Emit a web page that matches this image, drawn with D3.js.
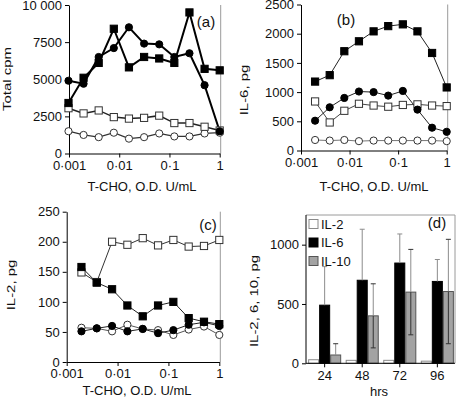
<!DOCTYPE html>
<html><head><meta charset="utf-8">
<script src="https://cdn.jsdelivr.net/npm/d3@7"></script>
<style>
body{margin:0;background:#fff}
svg{display:block}
text{font-family:"Liberation Sans",Arial,Helvetica,sans-serif;fill:#111}
</style>
</head><body>
<svg id="chart" width="456" height="404"></svg>
<script>
// ---------- data ----------
const dosesA = [0.000977, 0.00195, 0.0039, 0.0078, 0.0156, 0.03125, 0.0625, 0.125, 0.25, 0.5, 1];
const dosesBC = [0.00195, 0.0039, 0.0078, 0.0156, 0.03125, 0.0625, 0.125, 0.25, 0.5, 1];
const xTickValues = [0.001, 0.01, 0.1, 1];
const xTickLabels = ["0·001", "0·01", "0·1", "1"];

// panel (a) Total cpm
const aFilledSquare = [3400, 5100, 6100, 8400, 5800, 6500, 6400, 6100, 9500, 5700, 5600];
const aFilledCircle = [4900, 4700, 6500, 7100, 8500, 7400, 7350, 6500, 6750, 4600, 1500];
const aOpenSquare   = [3050, 2700, 2900, 2450, 2350, 2400, 2550, 2050, 2050, 1800, 1550];
const aOpenCircle   = [1500, 1250, 1100, 1400, 1000, 1100, 1350, 1150, 1150, 1350, 1400];
const aYTicks = [0, 2500, 5000, 7500, 10000];
const aYTickLabels = ["0", "2500", "5000", "7500", "10 000"];

// panel (b) IL-6, pg
const bFilledSquare = [1180, 1290, 1700, 1870, 2040, 2130, 2160, 2040, 1670, 1080];
const bFilledCircle = [510, 740, 900, 1010, 1000, 940, 1020, 700, 390, 320];
const bOpenSquare   = [840, 480, 680, 800, 770, 750, 780, 790, 770, 760];
const bOpenCircle   = [180, 170, 180, 160, 170, 170, 170, 170, 170, 160];
const bYTicks = [0, 500, 1000, 1500, 2000, 2500];

// panel (c) IL-2, pg
const cFilledSquare = [158, 132, 121, 94, 76, 94, 100, 73, 67, 63];
const cOpenSquare   = [149, 133, 200, 195, 206, 194, 203, 192, 193, 203];
const cFilledCircle = [51, 56, 60, 51, 55, 48, 53, 62, 66, 60];
const cOpenCircle   = [57, 56, 51, 62, 55, 53, 45, 54, 59, 45];
const cYTicks = [0, 50, 100, 150, 200, 250];

// panel (d) cytokines by hours
const hours = ["24", "48", "72", "96"];
const il2Values  = [30, 25, 25, 18];
const il6Values  = [490, 700, 845, 690];
const il6Errors  = [325, 430, 245, 185];
const il10Values = [70, 400, 600, 605];
const il10Errors = [95, 270, 360, 440];
const dYTicks = [0, 500, 1000];
const cytokines = ["IL-2", "IL-6", "IL-10"];

// ---------- drawing ----------
const svg = d3.select("#chart");
svg.append("rect").attr("width", 456).attr("height", 404).attr("fill", "#fff");
const intFmt = d3.format("d");

function styleAxis(g) {
  g.selectAll("path.domain").attr("stroke", "#000").attr("stroke-width", 1);
  g.selectAll(".tick line").attr("stroke", "#000");
  g.selectAll("text").attr("font-size", 13).attr("fill", "#111")
    .style("font-family", '"Liberation Sans", Arial, sans-serif');
}

function yTitle(g, label, x, y) {
  g.append("text").attr("transform", `translate(${x},${y}) rotate(-90) scale(1.15,0.9)`)
    .attr("text-anchor", "middle").attr("font-size", 13).text(label);
}

function linePanel(cfg) {
  const x = d3.scaleLog().domain([0.001, 1]).range(cfg.xRange);
  const y = d3.scaleLinear().domain(cfg.yDomain).range(cfg.yRange);
  const g = svg.append("g");

  // right border
  g.append("line").attr("x1", cfg.xRange[1] + 1).attr("x2", cfg.xRange[1] + 1)
    .attr("y1", cfg.yRange[1]).attr("y2", cfg.yRange[0])
    .attr("stroke", "#9a9a9a").attr("stroke-width", 1);

  const gx = g.append("g").attr("transform", `translate(0,${cfg.yRange[0]})`)
    .call(d3.axisBottom(x).tickValues(xTickValues)
      .tickFormat((d, i) => xTickLabels[i]).tickSize(4).tickSizeOuter(0).tickPadding(3));
  styleAxis(gx);
  const gy = g.append("g").attr("transform", `translate(${cfg.xRange[0]},0)`)
    .call(d3.axisLeft(y).tickValues(cfg.yTicks)
      .tickFormat((d, i) => cfg.yTickLabels ? cfg.yTickLabels[i] : intFmt(d))
      .tickSize(4).tickSizeOuter(0).tickPadding(3));
  styleAxis(gy);

  cfg.series.forEach(s => {
    const pts = s.values.map((v, i) => [cfg.doses[i], v]);
    g.append("path").datum(pts)
      .attr("d", d3.line().x(d => x(d[0])).y(d => y(d[1])))
      .attr("fill", "none").attr("stroke", s.lineColor).attr("stroke-width", s.lineWidth);
  });
  cfg.series.forEach(s => {
    const pts = s.values.map((v, i) => [cfg.doses[i], v]);
    const fill = s.filled ? "#000" : "#fff";
    if (s.marker === "square") {
      g.selectAll(null).data(pts).join("rect")
        .attr("x", d => x(d[0]) - 3.6).attr("y", d => y(d[1]) - 3.6)
        .attr("width", 7.2).attr("height", 7.2)
        .attr("fill", fill).attr("stroke", s.filled ? "#000" : "#333").attr("stroke-width", 1);
    } else {
      g.selectAll(null).data(pts).join("circle")
        .attr("cx", d => x(d[0])).attr("cy", d => y(d[1])).attr("r", 3.6)
        .attr("fill", fill).attr("stroke", s.filled ? "#000" : "#333").attr("stroke-width", 1);
    }
  });

  g.append("text").attr("x", cfg.label[1]).attr("y", cfg.label[2])
    .attr("text-anchor", "middle").attr("font-size", 15).text(cfg.label[0]);
  g.append("text").attr("x", cfg.xTitle[0]).attr("y", cfg.xTitle[1])
    .attr("text-anchor", "middle").attr("font-size", 13).text("T-CHO, O.D. U/mL");
  yTitle(g, cfg.yTitle[0], cfg.yTitle[1], cfg.yTitle[2]);
}

linePanel({
  xRange: [69, 219.7], yRange: [153.5, 5], yDomain: [0, 10000],
  yTicks: aYTicks, yTickLabels: aYTickLabels, doses: dosesA,
  series: [
    {values: aOpenCircle, marker: "circle", filled: false, lineColor: "#333", lineWidth: 1.3},
    {values: aOpenSquare, marker: "square", filled: false, lineColor: "#222", lineWidth: 1.5},
    {values: aFilledCircle, marker: "circle", filled: true, lineColor: "#000", lineWidth: 2},
    {values: aFilledSquare, marker: "square", filled: true, lineColor: "#000", lineWidth: 2}
  ],
  label: ["(a)", 206, 27], xTitle: [142, 191], yTitle: ["Total cpm", 11, 79]
});

linePanel({
  xRange: [301, 446.7], yRange: [150.5, 4.5], yDomain: [0, 2500],
  yTicks: bYTicks, yTickLabels: null, doses: dosesBC,
  series: [
    {values: bOpenCircle, marker: "circle", filled: false, lineColor: "#777", lineWidth: 1},
    {values: bOpenSquare, marker: "square", filled: false, lineColor: "#444", lineWidth: 1},
    {values: bFilledCircle, marker: "circle", filled: true, lineColor: "#222", lineWidth: 1},
    {values: bFilledSquare, marker: "square", filled: true, lineColor: "#222", lineWidth: 1}
  ],
  label: ["(b)", 346, 25], xTitle: [374, 191], yTitle: ["IL-6, pg", 248, 90]
});

linePanel({
  xRange: [66.7, 219.3], yRange: [362, 211.7], yDomain: [0, 250],
  yTicks: cYTicks, yTickLabels: null, doses: dosesBC,
  series: [
    {values: cOpenCircle, marker: "circle", filled: false, lineColor: "#555", lineWidth: 1},
    {values: cFilledCircle, marker: "circle", filled: true, lineColor: "#222", lineWidth: 1},
    {values: cOpenSquare, marker: "square", filled: false, lineColor: "#333", lineWidth: 1},
    {values: cFilledSquare, marker: "square", filled: true, lineColor: "#222", lineWidth: 1}
  ],
  label: ["(c)", 208, 230], xTitle: [137, 395], yTitle: ["IL-2, pg", 15, 285]
});

// ---------- panel (d) ----------
(function () {
  const left = 306, right = 455, top = 215, bottom = 363.3;
  const x0 = d3.scaleBand().domain(hours).range([left + 1, right]).paddingInner(0.12).paddingOuter(0.03);
  const x1 = d3.scaleBand().domain(cytokines).range([0, x0.bandwidth()]);
  const y = d3.scaleLinear().domain([0, 1250]).range([bottom, top]);
  const fills = {"IL-2": "#fff", "IL-6": "#000", "IL-10": "#a3a3a3"};
  const strokes = {"IL-2": "#8a8a8a", "IL-6": "#000", "IL-10": "#555"};
  const g = svg.append("g");

  // frame top/right
  g.append("path").attr("d", `M${left},${top}H${right}V${bottom}`)
    .attr("fill", "none").attr("stroke", "#9a9a9a").attr("stroke-width", 1);

  const rows = hours.map((h, i) => ({h, vals: [
    {k: "IL-2", v: il2Values[i], e: 0},
    {k: "IL-6", v: il6Values[i], e: il6Errors[i]},
    {k: "IL-10", v: il10Values[i], e: il10Errors[i]}
  ]}));

  const grp = g.selectAll(null).data(rows).join("g")
    .attr("transform", d => `translate(${x0(d.h)},0)`);
  grp.selectAll("rect").data(d => d.vals).join("rect")
    .attr("x", d => x1(d.k) + 0.5).attr("width", x1.bandwidth() - 1)
    .attr("y", d => y(d.v)).attr("height", d => y(0) - y(d.v))
    .attr("fill", d => fills[d.k]).attr("stroke", d => strokes[d.k]).attr("stroke-width", 1);

  // error bars
  grp.each(function (d) {
    const gg = d3.select(this);
    d.vals.filter(v => v.e > 0).forEach(v => {
      const cx = x1(v.k) + x1.bandwidth() / 2;
      const capW = 2.5;
      gg.append("line").attr("x1", cx).attr("x2", cx)
        .attr("y1", y(v.v)).attr("y2", y(v.v + v.e)).attr("stroke", "#8c8c8c").attr("stroke-width", 1);
      gg.append("line").attr("x1", cx - capW).attr("x2", cx + capW)
        .attr("y1", y(v.v + v.e)).attr("y2", y(v.v + v.e)).attr("stroke", v.k === "IL-6" ? "#8c8c8c" : "#333").attr("stroke-width", 1);
      if (v.k === "IL-10" && v.v - v.e > 0) {
        gg.append("line").attr("x1", cx).attr("x2", cx)
          .attr("y1", y(v.v)).attr("y2", y(v.v - v.e)).attr("stroke", "#333").attr("stroke-width", 1);
        gg.append("line").attr("x1", cx - capW).attr("x2", cx + capW)
          .attr("y1", y(v.v - v.e)).attr("y2", y(v.v - v.e)).attr("stroke", "#333").attr("stroke-width", 1);
      }
    });
  });

  const gx = g.append("g").attr("transform", `translate(0,${bottom})`)
    .call(d3.axisBottom(x0).tickSize(4).tickSizeOuter(0).tickPadding(3));
  styleAxis(gx);
  gx.select("path.domain").attr("d", `M${left},0H${right}`);
  const gy = g.append("g").attr("transform", `translate(${left},0)`)
    .call(d3.axisLeft(y).tickValues(dYTicks).tickFormat(intFmt).tickSize(4).tickSizeOuter(0).tickPadding(3));
  styleAxis(gy);
  gy.select("path.domain").attr("d", `M0,${top}V${bottom}`);

  // legend
  const lg = g.append("g");
  cytokines.forEach((k, i) => {
    const cy = 224 + i * 18.5;
    lg.append("rect").attr("x", 309).attr("y", cy - 4.5).attr("width", 9).attr("height", 9)
      .attr("fill", fills[k]).attr("stroke", strokes[k]).attr("stroke-width", 1);
    lg.append("text").attr("x", 321).attr("y", cy + 4.6).attr("font-size", 13).text(k);
  });

  g.append("text").attr("x", 437).attr("y", 228).attr("text-anchor", "middle")
    .attr("font-size", 15).text("(d)");
  g.append("text").attr("x", 379).attr("y", 396).attr("text-anchor", "middle")
    .attr("font-size", 13).text("hrs");
  yTitle(g, "IL-2, 6, 10, pg", 258, 301);
})();
</script>
</body></html>
